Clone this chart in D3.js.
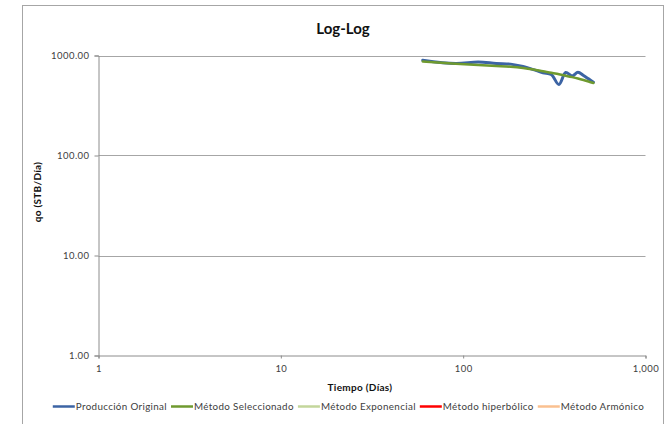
<!DOCTYPE html>
<html>
<head>
<meta charset="utf-8">
<script src="https://cdn.jsdelivr.net/npm/d3@7"></script>
<style>
  html, body { margin: 0; padding: 0; background: #fff; }
  svg { display: block; font-family: Lato, "Open Sans", "Liberation Sans", sans-serif; }
</style>
</head>
<body>
<svg id="chart" width="666" height="424"></svg>
<script>
// Monthly production (days, STB/day)
const tiempo = [60, 91, 121, 152, 182, 213, 243, 274, 304, 335, 365, 396, 426, 457, 487, 518];
const produccionOriginal = [898, 832, 862, 832, 820, 776, 722, 672, 646, 513, 676, 625, 680, 631, 584, 541];
const metodoSeleccionado = [871, 826, 802, 785, 771, 750, 724, 695, 673, 649, 628, 608, 589, 569, 550, 531];
const metodoExponencial = [];
const metodoHiperbolico = [];
const metodoArmonico = [];

const xTicks = [1, 10, 100, 1000];
const xTickLabels = ["1", "10", "100", "1,000"];
const yTicks = [1, 10, 100, 1000];
const yTickLabels = ["1.00", "10.00", "100.00", "1000.00"];

const seriesNames = ["Producción Original", "Método Seleccionado", "Método Exponencial", "Método hiperbólico", "Método Armónico"];
const seriesColors = ["#3c64a4", "#6f9a2f", "#c3d69b", "#ff0000", "#fac090"];

const svg = d3.select("#chart");

// Chart frame
svg.append("rect")
  .attr("x", 22.5).attr("y", 5.5)
  .attr("width", 641).attr("height", 430)
  .attr("fill", "#fff").attr("stroke", "#a6a6a6").attr("stroke-width", 1);

const plot = { left: 98.5, right: 645.5, top: 55.5, bottom: 355.5 };

const x = d3.scaleLog().domain([1, 1000]).range([plot.left, plot.right]);
const y = d3.scaleLog().domain([1, 1000]).range([plot.bottom, plot.top]);

// Title
svg.append("text")
  .attr("x", 343).attr("y", 34)
  .attr("text-anchor", "middle")
  .attr("font-size", 15).attr("font-weight", "bold").attr("fill", "#111")
  .text("Log-Log");

// Horizontal gridlines
svg.append("g")
  .selectAll("line")
  .data(yTicks.filter(d => d > 1))
  .join("line")
  .attr("x1", plot.left).attr("x2", plot.right)
  .attr("y1", d => Math.round(y(d)) + 0.5).attr("y2", d => Math.round(y(d)) + 0.5)
  .attr("stroke", "#a6a6a6").attr("stroke-width", 1);

const tickFont = sel => sel
  .attr("font-size", 9.5).attr("fill", "#404040")
  .attr("letter-spacing", 0.45)
  .attr("font-family", "Lato, 'Open Sans', sans-serif");

// Y axis
const yAxis = d3.axisLeft(y)
  .tickValues(yTicks)
  .tickFormat((d, i) => yTickLabels[i])
  .tickSize(4).tickPadding(5);
const gy = svg.append("g").attr("transform", `translate(${plot.left},0)`).call(yAxis);
gy.select(".domain").attr("stroke", "#8c8c8c");
gy.selectAll(".tick line").attr("stroke", "#8c8c8c");
gy.selectAll(".tick text").call(tickFont);

// X axis
const xAxis = d3.axisBottom(x)
  .tickValues(xTicks)
  .tickFormat((d, i) => xTickLabels[i])
  .tickSize(3).tickPadding(7);
const gx = svg.append("g").attr("transform", `translate(0,${plot.bottom})`).call(xAxis);
gx.select(".domain").attr("stroke", "#8c8c8c");
gx.selectAll(".tick line").attr("stroke", "#8c8c8c");
gx.selectAll(".tick text").call(tickFont);

// Axis titles
svg.append("text")
  .attr("transform", "translate(41,192) rotate(-90)")
  .attr("text-anchor", "middle")
  .attr("font-size", 10).attr("font-weight", "bold").attr("fill", "#111")
  .attr("letter-spacing", 0.3)
  .text("qo (STB/Día)");

svg.append("text")
  .attr("x", 360).attr("y", 391)
  .attr("text-anchor", "middle")
  .attr("font-size", 10).attr("font-weight", "bold").attr("fill", "#111")
  .attr("letter-spacing", 0.3)
  .text("Tiempo (Días)");

// Series lines
const line = d3.line()
  .x(d => x(d[0]))
  .y(d => y(d[1]))
  .curve(d3.curveCatmullRom.alpha(0.5));

const seriesValues = [produccionOriginal, metodoSeleccionado, metodoExponencial, metodoHiperbolico, metodoArmonico];
const widths = [3, 2.5, 2.5, 2.5, 2.5];
const drawOrder = [0, 2, 3, 4, 1];

drawOrder.forEach(i => {
  const vals = seriesValues[i];
  if (!vals.length) return;
  svg.append("path")
    .datum(vals.map((v, k) => [tiempo[k], v]))
    .attr("d", line)
    .attr("fill", "none")
    .attr("stroke", seriesColors[i])
    .attr("stroke-width", widths[i])
    .attr("stroke-linejoin", "round")
    .attr("stroke-linecap", "round");
});

// Legend
const legend = svg.append("g");
const items = legend.selectAll("g")
  .data(seriesNames)
  .join("g");
items.append("line")
  .attr("x1", 0).attr("x2", 22).attr("y1", 0).attr("y2", 0)
  .attr("stroke", (d, i) => seriesColors[i]).attr("stroke-width", 2.5);
items.append("text")
  .attr("x", 23).attr("y", 3.5)
  .attr("font-size", 9.8).attr("fill", "#404040")
  .attr("letter-spacing", 0.35)
  .text(d => d);

let cursor = 0;
const gap = 4;
items.each(function () {
  const w = this.getBBox().width;
  d3.select(this).attr("data-x", cursor);
  cursor += w + gap;
});
const total = cursor - gap;
const start = 348.5 - total / 2;
items.attr("transform", function () {
  return `translate(${start + (+this.getAttribute("data-x"))},406.5)`;
});
</script>
</body>
</html>
